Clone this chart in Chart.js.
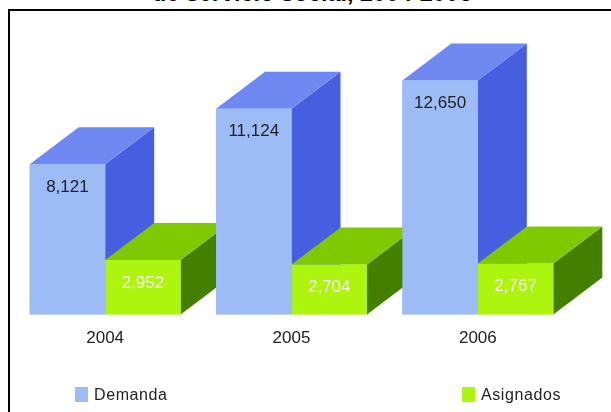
<!DOCTYPE html>
<html>
<head>
<meta charset="utf-8">
<script src="https://cdn.jsdelivr.net/npm/chart.js@4"></script>
<style>
  html, body { margin: 0; padding: 0; background: #fff; overflow: hidden; }
  #wrap { position: relative; width: 611px; height: 412px; overflow: hidden; }
  #frame { position: absolute; left: 8px; top: 9px; width: 620px; height: 420px; border: 2px solid #000; }
  #title { position: absolute; left: 152px; top: -20px; font: bold 23.4px "Liberation Sans", sans-serif; white-space: nowrap; color: #000; }
  #chart { position: absolute; left: 0; top: 0; }
  .legend-item { position: absolute; top: 387px; height: 15px; font: 16px "Liberation Sans", sans-serif; line-height: 15px; letter-spacing: 0.6px; color: #222; white-space: nowrap; padding-left: 19px; }
  .legend-item i { position: absolute; left: 0; top: 0; width: 13px; height: 15px; }
</style>
</head>
<body>
<div id="wrap">
  <div id="frame"></div>
  <div id="title">de servicio social, 2004-2006</div>
  <canvas id="chart" width="611" height="412"></canvas>
  <div id="legend"></div>
</div>
<script>
const years = ["2004", "2005", "2006"];
const demanda = [8121, 11124, 12650];
const asignados = [2952, 2704, 2767];

const depthX = 49;
const depthY = 37;
const faces = [
  { front: "#9dbbf5", top: "#6f88f2", side: "#455fe0", label: "#222" },
  { front: "#adf50f", top: "#80c800", side: "#457f00", label: "#fff" },
];

const boxes = {
  id: "boxes",
  afterDatasetsDraw(chart) {
    const ctx = chart.ctx;
    years.forEach((year, index) => {
      chart.data.datasets.forEach((dataset, datasetIndex) => {
        const bar = chart.getDatasetMeta(datasetIndex).data[index];
        const color = faces[datasetIndex];
        const left = bar.x - bar.width / 2;
        const right = bar.x + bar.width / 2;

        ctx.fillStyle = color.side;
        ctx.beginPath();
        ctx.moveTo(right, bar.y);
        ctx.lineTo(right + depthX, bar.y - depthY);
        ctx.lineTo(right + depthX, bar.base - depthY);
        ctx.lineTo(right, bar.base);
        ctx.closePath();
        ctx.fill();

        ctx.fillStyle = color.top;
        ctx.beginPath();
        ctx.moveTo(left, bar.y);
        ctx.lineTo(left + depthX, bar.y - depthY);
        ctx.lineTo(right + depthX, bar.y - depthY);
        ctx.lineTo(right, bar.y);
        ctx.closePath();
        ctx.fill();

        bar.draw(ctx);

        ctx.fillStyle = color.label;
        ctx.font = '17px "Liberation Sans", sans-serif';
        ctx.textAlign = "center";
        ctx.textBaseline = "middle";
        ctx.fillText(dataset.data[index].toLocaleString("en-US"), bar.x, bar.y + 23);
      });
    });
  },
};

new Chart(document.querySelector("#chart"), {
  type: "bar",
  data: {
    labels: years,
    datasets: [
      { label: "Demanda", data: demanda, backgroundColor: faces[0].front },
      { label: "Asignados", data: asignados, backgroundColor: faces[1].front },
    ],
  },
  options: {
    responsive: false,
    animation: false,
    layout: { padding: { left: 12, right: 40, top: 61, bottom: 57 } },
    categoryPercentage: 0.81,
    barPercentage: 1,
    plugins: { legend: { display: false }, tooltip: { enabled: false } },
    scales: {
      x: {
        grid: { display: false },
        border: { display: false },
        ticks: { color: "#222", padding: 6, font: { family: "Liberation Sans", size: 17 }, maxRotation: 0 },
      },
      y: { display: false, min: 0, max: 13700 },
    },
  },
  plugins: [boxes],
});

// la leyenda va muy separada, Chart.js no la coloca asi
const legendLeft = [75, 462];
[["Demanda", faces[0].front], ["Asignados", faces[1].front]].forEach(([name, color], index) => {
  const item = document.createElement("div");
  item.className = "legend-item";
  item.style.left = `${legendLeft[index]}px`;
  item.innerHTML = `<i style="background:${color}"></i>${name}`;
  document.querySelector("#legend").appendChild(item);
});
</script>
</body>
</html>
